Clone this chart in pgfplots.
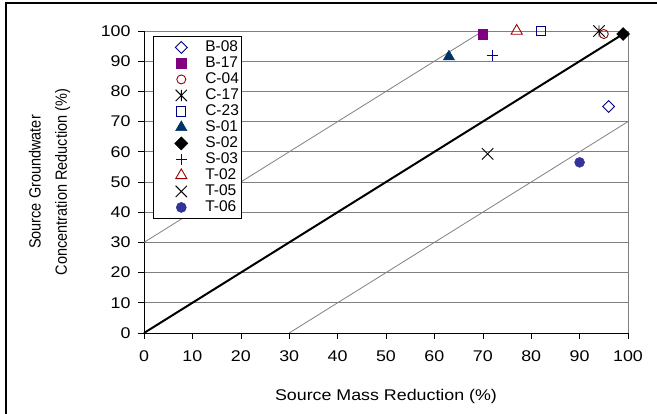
\documentclass[border=0pt]{standalone}
\usepackage{pgfplots}
\pgfplotsset{compat=1.18}
\usepackage{fontspec}
\setmainfont{Liberation Sans}

\definecolor{navyb}{RGB}{0,0,128}
\definecolor{purp}{RGB}{128,0,128}
\definecolor{dred}{RGB}{153,0,0}
\definecolor{sblue}{RGB}{0,51,102}
\definecolor{pblue}{RGB}{0,0,153}
\definecolor{dotblue}{RGB}{51,51,153}
\definecolor{gline}{RGB}{128,128,128}

% excel-style star: an x with a vertical bar
\pgfdeclareplotmark{xstar}{%
  \pgfpathmoveto{\pgfqpoint{-.7071\pgfplotmarksize}{-.7071\pgfplotmarksize}}%
  \pgfpathlineto{\pgfqpoint{.7071\pgfplotmarksize}{.7071\pgfplotmarksize}}%
  \pgfpathmoveto{\pgfqpoint{-.7071\pgfplotmarksize}{.7071\pgfplotmarksize}}%
  \pgfpathlineto{\pgfqpoint{.7071\pgfplotmarksize}{-.7071\pgfplotmarksize}}%
  \pgfpathmoveto{\pgfqpoint{0pt}{-.7071\pgfplotmarksize}}%
  \pgfpathlineto{\pgfqpoint{0pt}{.7071\pgfplotmarksize}}%
  \pgfusepathqstroke}

\newcommand\chartfont{\fontsize{15.5bp}{18bp}\selectfont}

\begin{document}
\begin{tikzpicture}
\useasboundingbox (0,0) rectangle (657bp,414bp);
\draw[line width=1.2bp] (6bp,0) -- (6bp,411bp) -- (657bp,411bp);
\begin{axis}[
    at={(144bp,81bp)}, anchor=south west,
    scale only axis,
    width=484bp, height=302bp,
    xmin=0, xmax=100, ymin=0, ymax=100,
    xtick={0,10,...,100}, ytick={0,10,...,100},
    axis lines=left,
    axis line style={-, black, line width=0.8bp},
    tick align=outside,
    major tick length=6bp,
    tick style={black, line width=0.6bp},
    ymajorgrids,
    grid style={gline, line width=0.6bp},
    clip=false,
    /pgf/number format/assume math mode=true,
    tick label style={font=\chartfont, xscale=1.15},
    xticklabel style={yshift=-8bp},
    yticklabel style={xshift=-3bp},
    xlabel={Source Mass Reduction (\%)},
    ylabel={Source Groundwater\\Concentration Reduction (\%)},
    xlabel style={font=\chartfont, xscale=1.15, at={(axis description cs:0.5,-0.21)}, anchor=center},
    ylabel style={font=\fontsize{14.5bp}{23.5bp}\selectfont, yscale=1.12,
        at={(axis description cs:-0.195,0.5)}, anchor=center, align=center},
    legend style={at={(rel axis cs:0.0186,0.983)}, anchor=north west,
        draw=black, line width=0.6bp, fill=white,
        font=\chartfont,
        inner xsep=2bp, inner ysep=3bp,
        nodes={inner xsep=0pt, inner ysep=1bp, text height=11bp, text depth=3bp}},
    legend cell align=left,
    legend image code/.code={\path[draw=none, fill=none] (0bp,0bp) -- (50bp,0bp);
        \draw[#1] plot coordinates {(26bp,0bp)};},
]
% reference lines
\addplot[gline, line width=0.8bp, forget plot] coordinates {(0,30) (70,100)};
\addplot[gline, line width=0.8bp, forget plot] coordinates {(30,0) (100,70)};
\addplot[black, line width=2bp, forget plot] coordinates {(0,0) (99,99)};
\draw[gline, line width=0.8bp] (rel axis cs:1,0) -- (rel axis cs:1,1);

\addplot[only marks, mark=square, mark size=4.2bp, mark options={rotate=45, navyb, line width=0.9bp}] coordinates {(96,75)};
\addplot[only marks, mark=square*, mark size=4.8bp, mark options={purp, fill=purp}] coordinates {(70,99)};
\addplot[only marks, mark=o, mark size=4.5bp, mark options={dred, line width=0.9bp}] coordinates {(95,99)};
\addplot[only marks, mark=xstar, mark size=8bp, mark options={black, line width=0.9bp}] coordinates {(94,100)};
\addplot[only marks, mark=square, mark size=4.6bp, mark options={navyb, line width=0.9bp}] coordinates {(82,100)};
\addplot[only marks, mark=triangle*, mark size=6.5bp, mark options={sblue, fill=sblue}] coordinates {(63,91.5)};
\addplot[only marks, mark=square*, mark size=4.6bp, mark options={rotate=45, black, fill=black}] coordinates {(99,99)};
\addplot[only marks, mark=+, mark size=5.5bp, mark options={pblue, line width=0.9bp}] coordinates {(72,92)};
\addplot[only marks, mark=triangle, mark size=6.5bp, mark options={dred, line width=0.9bp}] coordinates {(77,100)};
\addplot[only marks, mark=x, mark size=8bp, mark options={black, line width=0.9bp}] coordinates {(71,59.3)};
\addplot[only marks, mark=*, mark size=5bp, mark options={dotblue, fill=dotblue}] coordinates {(90,56.5)};
\legend{B-08, B-17, C-04, C-17, C-23, S-01, S-02, S-03, T-02, T-05, T-06}
\end{axis}
\end{tikzpicture}
\end{document}
